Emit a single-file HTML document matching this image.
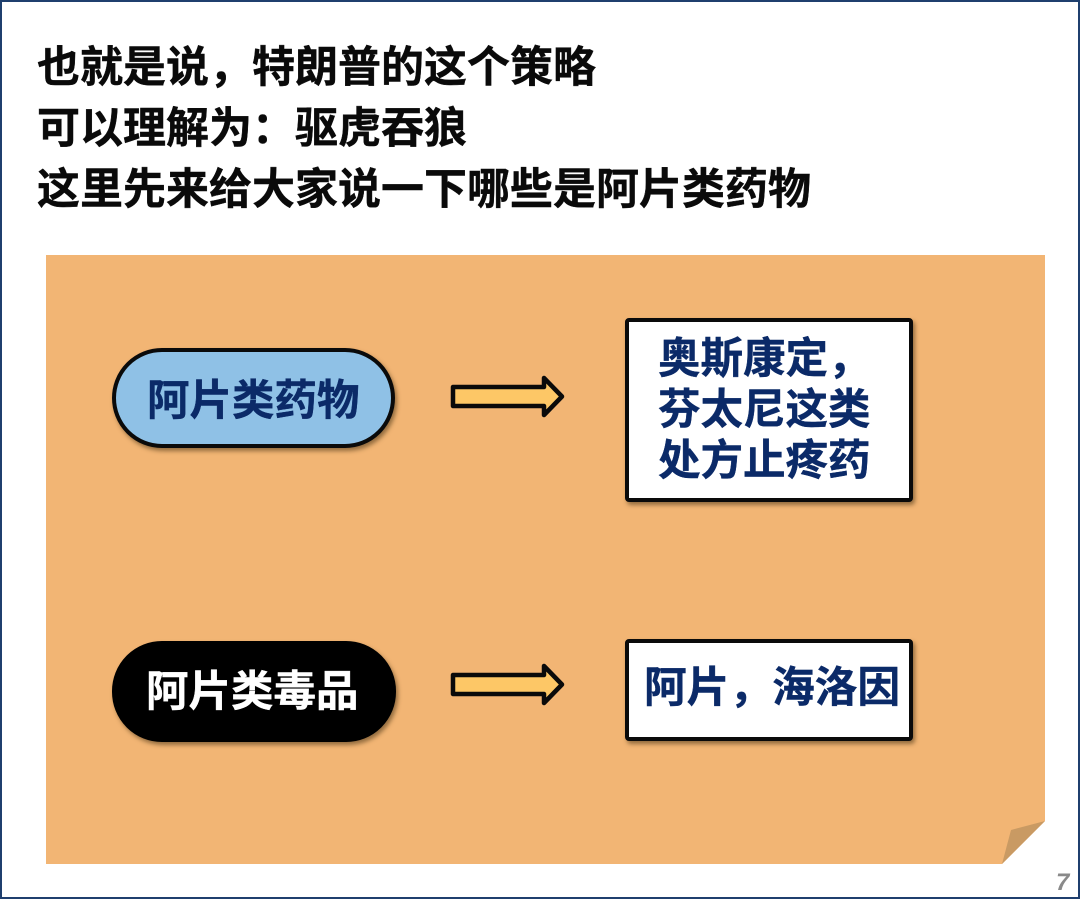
<!DOCTYPE html>
<html lang="zh">
<head>
<meta charset="utf-8">
<style>
html,body{margin:0;padding:0;background:#fff}
#p{position:relative;width:1080px;height:899px;overflow:hidden;background:#fff;font-family:"Liberation Sans","Noto Sans CJK SC",sans-serif;font-weight:700}
#frame{position:absolute;left:0;top:0;width:1080px;height:899px;box-sizing:border-box;border:2px solid #1f3f6e}
.t{position:absolute;white-space:nowrap;line-height:60px;height:60px;-webkit-text-stroke:.4px currentColor}
.title{font-size:43px;color:#0a0a0a;left:37px}
.navy{color:#0b2a68;font-size:42.5px}
.bx{position:absolute;box-sizing:border-box;border:4px solid #0a0a0a;background:#fff;box-shadow:2px 3px 4px rgba(70,50,20,.55)}
svg{position:absolute;left:0;top:0}
</style>
</head>
<body>
<div id="p">
<svg width="1080" height="899" viewBox="0 0 1080 899">
<polygon points="46,255 1045,255 1045,821 1002,864 46,864" fill="#f2b574"/>
<polygon points="1045,821 1011,830 1002,864" fill="#c99a63"/>
</svg>
<div id="frame"></div>
<div class="t title" style="top:38px">也就是说，特朗普的这个策略</div>
<div class="t title" style="top:99px">可以理解为：驱虎吞狼</div>
<div class="t title" style="top:160px">这里先来给大家说一下哪些是阿片类药物</div>

<div class="bx" style="left:112px;top:348px;width:283px;height:100px;border-radius:50px;background:#8fc1e6"></div>
<div class="t navy" style="left:147px;top:372px">阿片类药物</div>

<div class="bx" style="left:112px;top:641px;width:284px;height:101px;border-radius:50px;background:#000;border-color:#000"></div>
<div class="t" style="left:146px;top:663px;font-size:42.5px;color:#fff">阿片类毒品</div>

<svg width="1080" height="899" viewBox="0 0 1080 899">
<polygon points="453,387 544,387 544,378 562,396.500 544,415 544,406 453,406" fill="#fdc766" stroke="#0a0a0a" stroke-width="4.500" stroke-linejoin="round"/>
<polygon points="453,675 544,675 544,666 562,684.500 544,703 544,694 453,694" fill="#fdc766" stroke="#0a0a0a" stroke-width="4.500" stroke-linejoin="round"/>
</svg>

<div class="bx" style="left:625px;top:318px;width:288px;height:184px;border-radius:4px"></div>
<div class="t navy" style="left:658px;top:330px">奥斯康定，</div>
<div class="t navy" style="left:658px;top:381px">芬太尼这类</div>
<div class="t navy" style="left:658px;top:432px">处方止疼药</div>

<div class="bx" style="left:625px;top:639px;width:288px;height:102px;border-radius:4px"></div>
<div class="t navy" style="left:644px;top:658px;font-size:42.7px">阿片，海洛因</div>

<div class="t" style="left:1056px;top:853px;font-size:24px;color:#8a8a8a;font-style:italic;-webkit-text-stroke:0">7</div>
</div>
</body>
</html>
